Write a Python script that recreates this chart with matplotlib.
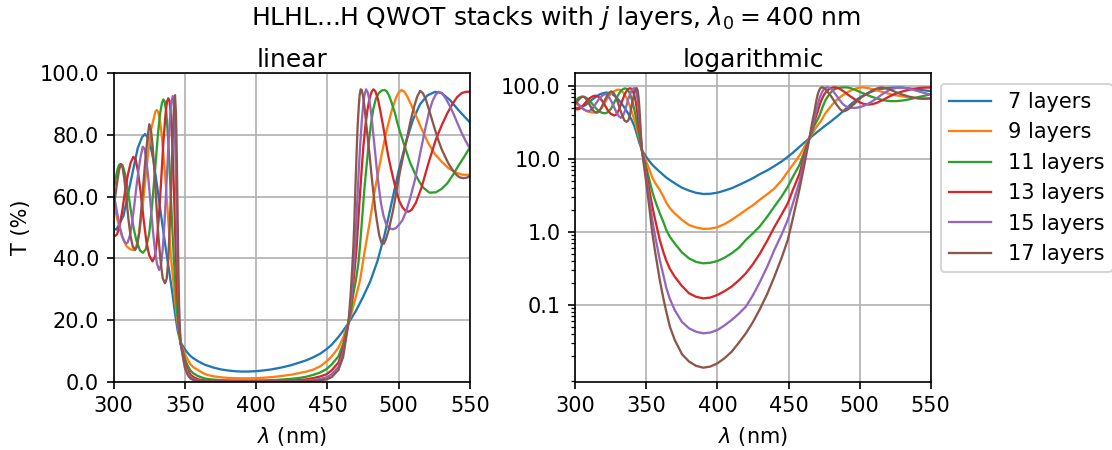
import matplotlib
matplotlib.use("Agg")
import matplotlib.pyplot as plt
from matplotlib.ticker import FormatStrFormatter

# transmission curves T(%) vs wavelength (nm) for each stack size
wl_7 = [300, 302, 307, 312, 317, 320, 322.1, 325, 327.9, 331, 333.8, 337, 339.6, 341.5, 343.1, 345,
        347, 350, 352, 354, 356, 359.4, 364, 369.9, 375, 380, 385, 390, 395, 400, 405, 410, 415,
        420, 425, 429.6, 435, 440, 445, 449.5, 453, 457.7, 461, 464.7, 470, 475, 480, 485, 490, 495,
        500, 505, 510, 515, 520, 525.5, 530, 536, 542, 546, 550]
t_7 = [49.7, 49.3, 53.8, 64.8, 75.8, 79.3, 80.3, 78.5, 72, 62, 52.4, 42, 34, 28, 22.2, 16.5,
       12.8, 10.5, 9.3, 8.3, 7.6, 6.6, 5.5, 4.6, 4.0, 3.65, 3.4, 3.28, 3.3, 3.42, 3.65, 3.93, 4.35,
       4.84, 5.4, 6.1, 6.9, 7.9, 9.1, 10.6, 12.0, 14.5, 16.5, 19, 23, 27.5, 32.5, 39, 47.5, 58,
       68.5, 77.5, 85, 90, 92.8, 94, 93.6, 91.3, 88, 86, 84]

wl_9 = [300, 303, 306, 309, 311.5, 313.9, 316, 318, 320, 322, 324, 326, 328, 329.3, 330.3, 331.3,
        332.5, 334, 336, 338, 340, 342, 344, 345.5, 347, 350, 352, 354, 356, 359.4, 362, 364,
        366.5, 369.9, 375, 380, 385, 390, 395, 400, 405, 410, 415, 420, 425, 429.6, 435, 440, 445,
        449.5, 453, 457.7, 461, 464.7, 467, 469, 471, 472.9, 476, 479.9, 483, 486.9, 491, 495.1,
        498, 500, 502.1, 504, 506, 508.5, 511.4, 516, 520.8, 525, 530.2, 535, 540.7, 545, 550]
t_9 = [58, 52, 47, 44, 43, 42.7, 44, 48, 55, 64, 73, 81, 85, 87.5, 88.1, 87.5,
       85, 79, 68, 55, 42, 32, 22.5, 17, 12.5, 9, 7.2, 5.6, 4.7, 3.73, 3.0, 2.5,
       2.1, 1.78, 1.45, 1.23, 1.14, 1.09, 1.1, 1.15, 1.27, 1.45, 1.69, 1.98, 2.3, 2.72, 3.25, 3.9, 5.0,
       6.64, 8.2, 11, 14.3, 19, 22.5, 26, 29.5, 33, 42, 52.4, 61.5, 71, 80.5, 88,
       92, 93.8, 94.6, 94, 92.5, 90, 87, 82, 77.3, 74, 71.3, 69.2, 67.7, 67.1, 67.1]

wl_11 = [300, 301.5, 303, 304, 305.1, 306.3, 308, 310, 312, 314, 316, 318.5, 320.5, 322.5, 325, 327,
         329, 331, 332.5, 334, 334.9, 335.8, 337, 338.5, 340, 341.5, 343, 344.5, 345.8, 347, 350,
         352, 354, 356, 359.4, 362, 364, 366.5, 369.9, 375, 380, 385, 390, 395, 400, 405, 410, 415,
         420, 425, 429.6, 435, 440, 445, 449.5, 453, 457.7, 461, 464.7, 466.5, 468, 470, 471.7, 473,
         474.5, 476, 477.6, 479, 480.5, 482.2, 484, 486, 488, 489.9, 491.5, 493, 495, 497.4, 499,
         501, 504.4, 508, 511.4, 514, 517, 521.5, 526, 530, 534, 537.5, 541.8, 546, 550]
t_11 = [62, 66, 69.2, 70.3, 70.6, 70.2, 67.5, 62, 56, 50, 45.8, 42.6, 41.8, 42.8, 48, 57,
        68, 79.5, 86.5, 90.5, 91.5, 91, 87.5, 77, 62, 47, 34, 23, 16.5, 12.5, 7.5,
        5.2, 3.6, 2.7, 1.78, 1.35, 1.05, 0.85, 0.69, 0.52, 0.43, 0.385, 0.368, 0.375, 0.396, 0.44, 0.505, 0.6,
        0.77, 0.95, 1.17, 1.6, 2.2, 3.0, 4.13, 5.6, 8.2, 12.2, 19, 23, 28, 33, 38.4, 45,
        54, 63, 70.8, 77.5, 83.5, 88.5, 91.8, 93.6, 94.4, 94.6, 94.2, 93, 90.5, 87, 84,
        80.8, 76, 71, 67.5, 65.2, 63, 61.3, 61.4, 62.5, 64.3, 66.7, 70, 73, 76]

wl_13 = [300, 301.3, 302.5, 304, 306, 308, 310, 312, 313.9, 315.5, 317, 319, 321, 323, 325, 327.3,
         329, 330.5, 332, 333.5, 335, 336.5, 337.5, 338.4, 339.3, 340.3, 341.5, 342.5, 343.5, 344.5,
         345.8, 347, 350, 352, 354, 356, 359.4, 362, 364, 366.5, 369.9, 375, 380, 385, 390, 395, 400,
         405, 410, 415, 420, 425, 429.6, 435, 440, 445, 449.5, 453, 457.7, 461, 464.7, 466, 467.5,
         469, 470.5, 472, 473, 474.2, 475.2, 476.5, 478, 479.5, 481, 482.2, 483.5, 485.5, 487.3,
         489.2, 491, 492.5, 494.5, 496.2, 498.5, 500.5, 502.5, 504.5, 506.7, 509, 512, 516, 520.8,
         526, 530, 534, 538, 541, 544.2, 547, 550]
t_13 = [47.5, 47.3, 47.8, 50, 55, 61.5, 67, 71, 72.9, 72, 68.5, 61.5, 53, 45.5, 41, 39,
        40.5, 46, 55, 66, 78, 87, 90.8, 91.9, 91, 86, 74, 60, 44, 31,
        19.5, 12.5, 6.3, 3.8, 2.3, 1.5, 0.77, 0.52, 0.4, 0.31, 0.242, 0.18, 0.143, 0.128, 0.122, 0.125, 0.136,
        0.153, 0.177, 0.215, 0.269, 0.36, 0.49, 0.75, 1.15, 1.7, 2.44, 3.7, 6.2, 10.8, 19, 23.5, 29,
        36, 43.8, 55, 62, 70, 76.2, 82.5, 88, 91.8, 94, 94.8, 94.3, 91.5, 87.3,
        82.5, 77.6, 73.5, 69.2, 65.8, 61.5, 58.5, 56.6, 55.5, 55.1, 55.7, 58, 63, 70.8,
        78.5, 83, 87, 90.3, 92.3, 93.6, 94, 94]

wl_15 = [300, 301.5, 303, 304.5, 306, 307.5, 308.8, 310, 311.5, 313, 314.5, 316, 317.5, 319, 320.5,
         321.8, 323, 324.5, 326, 327.5, 329, 330.5, 332, 333.3, 334.5, 335.8, 337, 338.3, 339.5,
         340.5, 341.5, 342.3, 343, 343.8, 344.5, 345.3, 346.1, 347, 350, 352, 354, 356, 359.4, 362,
         364, 366.5, 369.9, 375, 380, 385, 390, 395, 400, 405, 410, 415, 420, 425, 429.6, 435, 440,
         445, 449.5, 453, 457.7, 461, 464.7, 466, 467, 468.2, 469.4, 470.3, 471.2, 472.1, 472.9, 474,
         475, 476, 477.1, 478.3, 479.5, 480.8, 482, 483.3, 484.6, 486, 487.5, 489.2, 491, 493.3,
         495.8, 498, 500, 502.5, 505, 508, 511.4, 515, 518.4, 521, 523.5, 525.8, 527.8, 530.3, 533,
         535.7, 538.3, 541, 544, 547, 550]
t_15 = [61, 57.5, 53.5, 50, 47.3, 45.5, 44.8, 45.2, 47.5, 51.5, 57, 63, 68.5, 73, 76.2,
        75.5, 72, 65.5, 57.5, 49.5, 42.8, 38.2, 36.2, 37.8, 43, 52, 63, 75, 85,
        90.5, 92.6, 90, 82, 65, 48, 32, 20, 12.5, 5.3, 2.9, 1.5, 0.9, 0.41, 0.25,
        0.17, 0.12, 0.0845, 0.058, 0.0474, 0.0425, 0.0405, 0.0415, 0.045, 0.052, 0.0617, 0.075, 0.094, 0.135, 0.2, 0.33, 0.56,
        0.9, 1.45, 2.4, 4.8, 9.5, 19, 24, 28.5, 36, 44, 52, 61, 69.5, 76.2, 84,
        89.5, 93, 94.8, 93.8, 91, 86.5, 81, 75, 69, 63.3, 58, 54, 51.3, 49.8,
        49.4, 49.8, 50.8, 52.3, 55, 59.5, 65.5, 74, 81.6, 87, 90.8, 93, 94, 93.6, 91.8,
        89.5, 87, 84, 80.8, 78, 75.5]

wl_17 = [300, 301.3, 302.5, 303.8, 305.1, 306.3, 307.5, 309, 310.5, 312, 313.5, 315.1, 316.5, 318,
         319.5, 321, 322.5, 323.8, 325.1, 326.3, 327.5, 328.8, 330, 331.5, 333, 334.5, 336.1, 337.3,
         338.3, 339.3, 340.3, 341.3, 342.2, 343.1, 343.8, 344.4, 345, 345.6, 346.2, 347, 350, 352,
         354, 356, 359.4, 362, 364, 366.5, 369.9, 375, 380, 385, 390, 395, 400, 405, 410, 415, 420,
         425, 429.6, 435, 440, 445, 449.5, 453, 457.7, 461, 464.7, 465.6, 466.5, 467.4, 468.2, 468.8,
         469.4, 470, 470.5, 471.2, 472, 472.6, 473.3, 474.1, 475, 476, 477, 478.5, 479.9, 481, 482.3,
         483.5, 484.6, 486.3, 488.1, 489.6, 491, 493, 494.8, 496.2, 498.5, 501, 503.5, 506, 508.5,
         511, 513, 515, 517, 519, 521, 523.3, 525.5, 528, 530, 532.5, 534.8, 537.5, 540, 542.5,
         545.3, 548, 550]
t_17 = [56, 60.5, 64.5, 68.5, 70.6, 69.5, 66, 59.5, 52.5, 47, 43.8, 42.7, 43.8, 48.5,
        56, 64.5, 73, 79, 83.5, 81.5, 76, 67.5, 58, 47, 39, 33.5, 31.9, 33.5,
        39, 49, 62, 76, 87.5, 92.9, 87, 72, 52, 33, 20, 12.5, 4.5, 2.2,
        1.0, 0.55, 0.218, 0.12, 0.08, 0.05, 0.033, 0.021, 0.0166, 0.0145, 0.0137, 0.0142, 0.0157, 0.0185, 0.0227, 0.03, 0.0405,
        0.058, 0.085, 0.14, 0.24, 0.43, 0.77, 1.5, 3.8, 8, 19, 24, 30, 37, 43.8, 51,
        60, 68, 75, 83, 89.5, 93, 94.8, 94.5, 92.5, 89, 84.5, 78, 71.9, 66.5, 61,
        56, 52.4, 47.5, 44.7, 44.8, 46.2, 49.3, 53, 56, 62, 68.5, 74, 79.5, 85,
        89.5, 92.5, 94.3, 93.5, 91.5, 88.5, 85, 81.6, 78, 75.5, 73, 70.8, 68.8, 67.3, 66.3,
        66, 66.2, 66.8]

layers = [7, 9, 11, 13, 15, 17]
curves = [(wl_7, t_7), (wl_9, t_9), (wl_11, t_11), (wl_13, t_13), (wl_15, t_15), (wl_17, t_17)]


def plot_stacks():
    fig = plt.figure(figsize=(1112 / 150, 450 / 150), dpi=150)
    ax_lin = fig.add_axes([0.1021, 0.1518, 0.3206, 0.6853])
    ax_log = fig.add_axes([0.5174, 0.1518, 0.3195, 0.6853])

    for j, (wl, t) in zip(layers, curves):
        ax_lin.plot(wl, t, lw=1.1, label=f"{j} layers")
        ax_log.plot(wl, t, lw=1.1, label=f"{j} layers")

    ax_lin.set_xlim(300, 550)
    ax_lin.set_ylim(0, 100)
    ax_lin.set_title("linear", pad=3)
    ax_lin.set_ylabel("T (%)")
    ax_lin.yaxis.set_major_formatter(FormatStrFormatter("%.1f"))

    ax_log.set_yscale("log")
    ax_log.set_xlim(300, 550)
    ax_log.set_yticks([0.1, 1, 10, 100])
    ax_log.set_title("logarithmic", pad=3)
    ax_log.yaxis.set_major_formatter(FormatStrFormatter("%.1f"))

    for ax in (ax_lin, ax_log):
        ax.set_xlabel(r"$\lambda$ (nm)")
        ax.set_xticks([300, 350, 400, 450, 500, 550])
        ax.grid(True)

    ax_log.legend(loc="upper left", bbox_to_anchor=(1.0, 1.0))
    fig.suptitle(r"HLHL...H QWOT stacks with $j$ layers, $\lambda_0 = 400$ nm", y=0.99)
    fig.savefig("out.png", dpi=150)


plot_stacks()
